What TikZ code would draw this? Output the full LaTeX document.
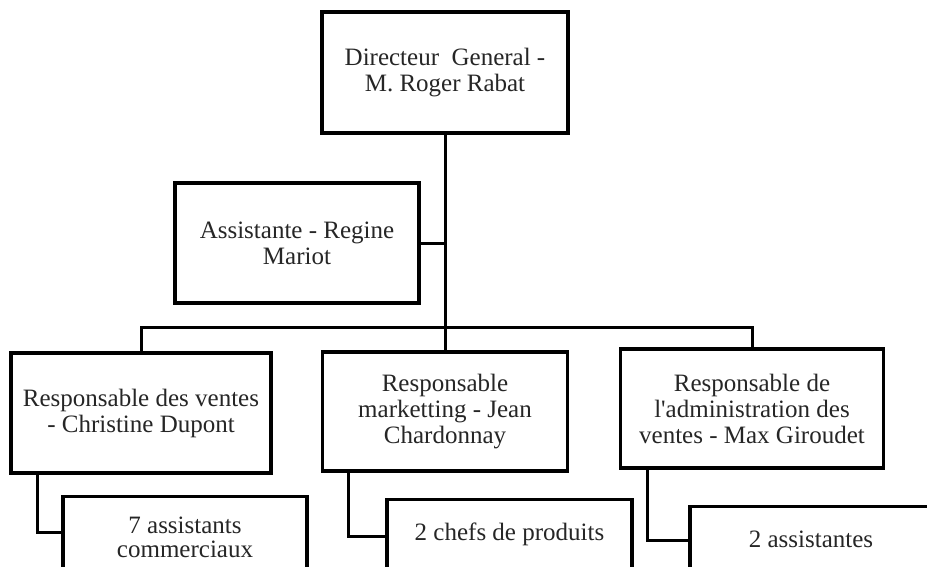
\documentclass[tikz,border=0pt]{standalone}
\usepackage{fontspec}
\setmainfont{Liberation Serif}
\begin{document}
\begin{tikzpicture}[x=1pt,y=-1pt,
  orgbox/.style={draw=black, line width=3.4pt, fill=white, align=center, inner sep=0pt,
     font=\fontsize{25}{26}\selectfont, text=black!85},
  txt/.style={align=center, inner sep=0pt, font=\fontsize{25}{24}\selectfont, text=black!85},
  link/.style={line width=3pt, draw=black}]
\useasboundingbox (0,0) rectangle (927,567);
\clip (0,0) rectangle (927,567);
\fill[white] (0,0) rectangle (927,567);

% boxes
\node[orgbox, minimum width=246pt, minimum height=121pt] (dg) at (445,72.5) {Directeur\ \ General -\\M. Roger Rabat};
\node[orgbox, minimum width=244pt, minimum height=120pt] (as) at (297,243) {Assistante - Regine\\Mariot};
\node[orgbox, minimum width=260pt, minimum height=120pt] (b1) at (141,413) {Responsable des ventes\\- Christine Dupont};
\node[orgbox, minimum width=245pt, minimum height=119pt] (b2) at (445,411.5) {Responsable\\marketting - Jean\\Chardonnay};
\node[orgbox, minimum width=263pt, minimum height=119pt] (b3) at (752,408.5) {Responsable de\\l\textquotesingle administration des\\ventes - Max Giroudet};

% child boxes (cut by the page edge)
\node[orgbox, minimum width=244pt, minimum height=120pt, anchor=north] (c1) at (185,495) {};
\node[orgbox, minimum width=245pt, minimum height=120pt, anchor=north] (c2) at (509.5,498) {};
\node[orgbox, minimum width=242pt, minimum height=120pt, anchor=north] (c3) at (811,505) {};
\node[txt] (c1t) at ([yshift=-42]c1.north) {7 assistants\\commerciaux};
\node[txt] (c2t) at ([yshift=-36]c2.north) {2 chefs de produits};
\node[txt] (c3t) at ([yshift=-34]c3.north) {2 assistantes};

% connectors
\coordinate (bus) at (445,327);
\draw[link] (dg.south) -- (b2.north);
\draw[link] (as.east) -- (as.east -| dg.south);
\draw[link] (b1.north) |- (bus) -| (b3.north);

\draw[link] ([xshift=28]b1.south west) |- ([yshift=-37]c1.north west);
\draw[link] ([xshift=28]b2.south west) |- ([yshift=-38]c2.north west);
\draw[link] ([xshift=29]b3.south west) |- ([yshift=-35]c3.north west);
\end{tikzpicture}
\end{document}
